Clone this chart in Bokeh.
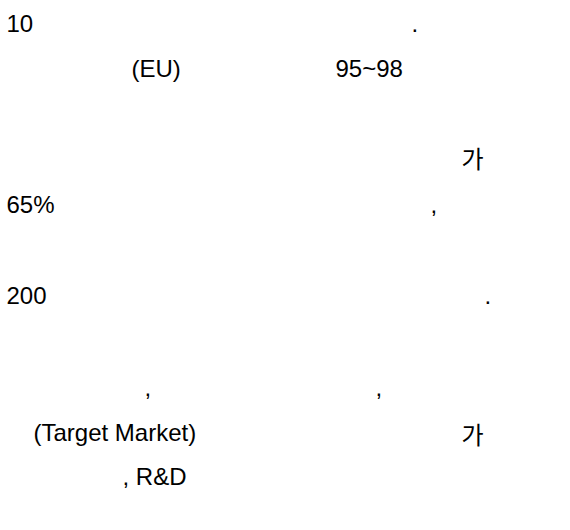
from bokeh.plotting import figure
from bokeh.models import Range1d, ColumnDataSource
from bokeh.core.properties import value
from bokeh.embed import file_html
from bokeh.resources import INLINE

# Visible text fragments of the reference (Latin parts), their column (x) and line baseline (y)
latin_text = ["10", ".", "(EU)", "95~98", "65%", ",", "200", ".", ",", ",", "(Target Market)", ", R&D"]
latin_x = [6, 411, 131, 335, 6, 430, 6, 484, 144, 375, 33, 122]
latin_y = [23, 23, 68, 68, 204, 204, 295, 295, 387, 387, 432, 476]

# Korean fragments
kor_text = ["가", "가"]
kor_x = [461, 461]
kor_y = [157, 433]

W, H = 554, 514
p = figure(width=W, height=H, output_backend="svg", toolbar_location=None,
           x_range=Range1d(0, W), y_range=Range1d(H, 0), min_border=0)
p.axis.visible = False
p.grid.visible = False
p.outline_line_color = None
p.background_fill_color = "white"
p.border_fill_color = "white"

src = ColumnDataSource(dict(x=latin_x, y=latin_y, t=latin_text))
p.text(x="x", y="y", text="t", source=src, text_font=value("Liberation Sans"),
       text_font_size="24px", text_color="black", text_baseline="alphabetic", text_align="left")

src2 = ColumnDataSource(dict(x=kor_x, y=kor_y, t=kor_text))
p.text(x="x", y="y", text="t", source=src2, text_font=value("Noto Sans CJK KR"),
       text_font_size="24px", text_color="black", text_baseline="alphabetic", text_align="left")

open("out.html", "w").write(file_html(p, INLINE))
